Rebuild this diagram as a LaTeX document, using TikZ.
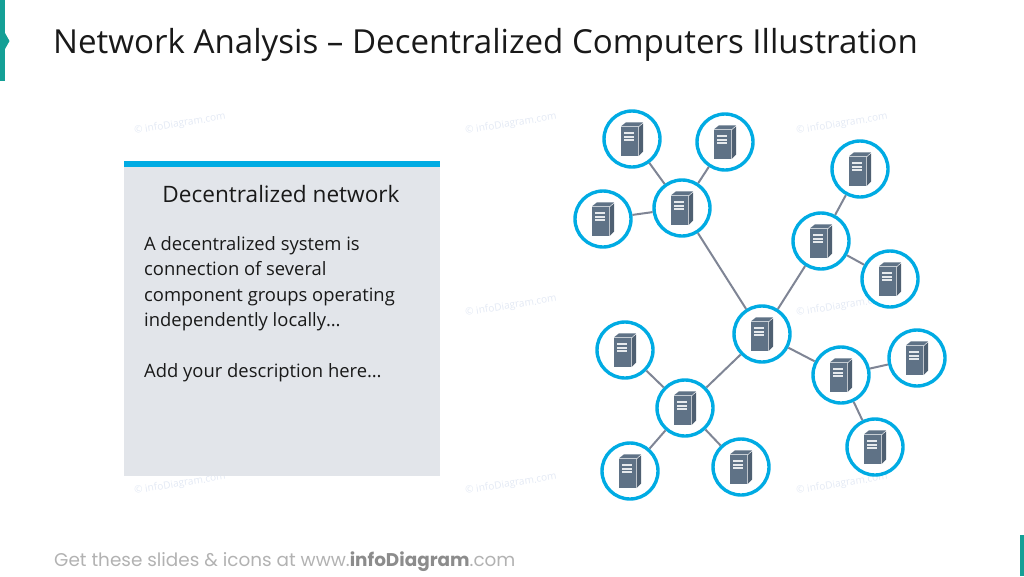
\documentclass[tikz,border=0pt]{standalone}
\usepackage{fontspec}
\setmainfont{Open Sans}
\newfontfamily\footfont{Poppins}
\definecolor{teal1}{HTML}{14A096}
\definecolor{blue1}{HTML}{00ABE3}
\definecolor{panel}{HTML}{E2E5EA}
\definecolor{slate}{HTML}{5F7286}
\definecolor{slatedark}{HTML}{4F6072}
\definecolor{linkc}{HTML}{7F8595}
\definecolor{wmark}{HTML}{E3E9F4}
\tikzset{
  x=1pt,y=-1pt,
  hostnode/.style={circle,draw=blue1,line width=3.4pt,fill=white,minimum size=56pt,inner sep=0pt},
  linkline/.style={draw=linkc,line width=2pt},
  wm/.style={text=wmark,font=\fontsize{10.1}{10}\selectfont,rotate=9,inner sep=0pt},
  bodytxt/.style={anchor=base west,inner sep=0pt,font=\fontsize{18.4}{18}\selectfont,text=black!90},
  pics/server/.style={code={
    \fill[slate] (-11,-11.7) rectangle (5.6,17);
    \fill[slate] (-11,-12.7) -- (-6,-16.7) -- (11.2,-16.7) -- (6.6,-12.7) -- cycle;
    \fill[slatedark] (6.6,-11.7) -- (11.2,-15.7) -- (11.2,12.5) -- (6.6,17) -- cycle;
    \fill[white!85!slate] (-8,-6.6) rectangle (2.4,-4.8);
    \fill[white!85!slate] (-8,-3.1) rectangle (2.4,-1.3);
    \fill[white!85!slate] (-8,0.4) rectangle (2.4,2.2);
  }}
}
\begin{document}
\begin{tikzpicture}
\useasboundingbox (0,0) rectangle (1024,576);
% accents
\fill[teal1] (0,0) rectangle (5,81);
\fill[teal1] (5,33) -- (9.5,41) -- (5,49) -- cycle;
\fill[teal1] (1020,535) rectangle (1024,576);
% watermarks
\foreach \n/\x/\y in {wa/180/124,wb/511/124,wc/842/124,wd/511/306,we/842/306,wf/180/484,wg/511/484,wh/842/484}
  \node[wm] (\n) at (\x,\y) {© infoDiagram.com};
% title
\node[anchor=base west,inner sep=0pt,font=\fontsize{33.1}{34}\selectfont,text=black!90] (title) at (53,53) {Network Analysis – Decentralized Computers Illustration};
% panel
\fill[panel] (124,161) rectangle (440,476);
\fill[blue1] (124,161) rectangle (440,167);
\node[anchor=base,inner sep=0pt,font=\fontsize{22.6}{22}\selectfont,text=black!90] (head) at (281,202) {Decentralized network};
\node[bodytxt] (l1) at (144,250) {A decentralized system is};
\node[bodytxt] (l2) at (144,275) {connection of several};
\node[bodytxt] (l3) at (144,301) {component groups operating};
\node[bodytxt] (l4) at (144,326) {independently locally…};
\node[bodytxt] (l5) at (144,377) {Add your description here…};
% network
\foreach \n/\x/\y in {a/632/139,b/725/142,c/682/208,d/603/219,e/860/169,f/821/241,g/890/279,h/762/334,i/917/358,j/841/375,k/875/447,l/625/350,m/685/408,n/630/471,o/741/467}{
  \node[hostnode] (\n) at (\x,\y) {};
  \pic at (\x,\y) {server};
}
\foreach \p/\q in {c/a,c/b,c/d,c/h,f/e,f/g,f/h,h/j,j/i,j/k,h/m,m/l,m/n,m/o}
  \draw[linkline] (\p) -- (\q);
% footer
\node[anchor=base west,inner sep=0pt,text=black!30,font=\footfont\fontsize{18.4}{18}\selectfont] (foot) at (54,566) {Get these slides \& icons at www.{\bfseries\color{black!45}infoDiagram}.com};
\end{tikzpicture}
\end{document}
